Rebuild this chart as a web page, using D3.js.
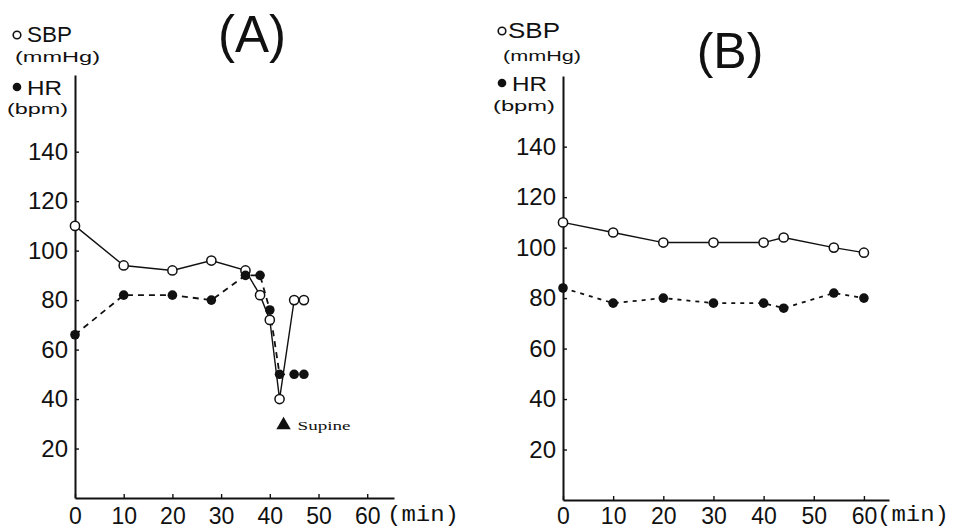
<!DOCTYPE html>
<html>
<head>
<meta charset="utf-8">
<script src="https://cdn.jsdelivr.net/npm/d3@7"></script>
<style>
  html, body { margin: 0; padding: 0; background: #fff; }
  svg { display: block; }
  text { fill: #111; }
</style>
</head>
<body>
<svg id="chart" width="955" height="529"></svg>
<script>
// ---------- DATA ----------
// Panel A
const timeA_SBP = [0, 10, 20, 28, 35, 38, 40, 42, 45, 47];
const sbpA      = [110, 94, 92, 96, 92, 82, 72, 40, 80, 80];
const timeA_HR  = [0, 10, 20, 28, 35, 38, 40, 42, 45, 47];
const hrA       = [66, 82, 82, 80, 90, 90, 76, 50, 50, 50];
// Panel B
const timeB_SBP = [0, 10, 20, 30, 40, 44, 54, 60];
const sbpB      = [110, 106, 102, 102, 102, 104, 100, 98];
const timeB_HR  = [0, 10, 20, 30, 40, 44, 54, 60];
const hrB       = [84, 78, 80, 78, 78, 76, 82, 80];

const yTicks = [20, 40, 60, 80, 100, 120, 140];
const xTicks = [0, 10, 20, 30, 40, 50, 60];
const panelTitles = ["(A)", "(B)"];
const legendSBP = "SBP", legendSBPUnit = "(mmHg)";
const legendHR = "HR", legendHRUnit = "(bpm)";
const xUnit = "(min)";
const supineLabel = "Supine";
const supineTime = 42;

// ---------- DRAW ----------
const svg = d3.select("#chart");
const sans = "'Liberation Sans', Arial, Helvetica, sans-serif";

function panel(cfg) {
  const g = svg.append("g");
  const x = d3.scaleLinear().domain([0, cfg.xMax]).range([cfg.x0, cfg.x1]);
  const y = d3.scaleLinear().domain([0, cfg.yMax]).range([cfg.y0, cfg.y1]);

  // y axis
  const ya = g.append("g").attr("transform", `translate(${cfg.x0},0)`)
    .call(d3.axisLeft(y).tickValues(yTicks).tickSizeInner(-4).tickSizeOuter(0).tickPadding(7));
  ya.select(".domain").attr("stroke", "#111").attr("stroke-width", 2);
  ya.selectAll(".tick line").attr("stroke", "#111").attr("stroke-width", 1.4);
  ya.selectAll("text").attr("font-family", sans).attr("font-size", 24).attr("fill", "#111");

  // x axis
  const xa = g.append("g").attr("transform", `translate(0,${cfg.y0})`)
    .call(d3.axisBottom(x).tickValues(xTicks).tickSizeInner(-4).tickSizeOuter(0));
  xa.select(".domain").attr("stroke", "#111").attr("stroke-width", 2);
  xa.selectAll(".tick line").attr("stroke", "#111").attr("stroke-width", 1.4);
  xa.selectAll("text").attr("font-family", sans).attr("font-size", 23)
    .attr("fill", "#111").attr("y", 524 - cfg.y0).attr("dy", 0);

  g.append("text").attr("x", cfg.minX).attr("y", 521)
    .attr("font-family", "'Liberation Mono', 'DejaVu Sans Mono', monospace")
    .attr("font-size", 22).attr("textLength", 72).attr("lengthAdjust", "spacingAndGlyphs")
    .text(xUnit);

  const sbpPts = cfg.tS.map((t, i) => [t, cfg.sbp[i]]);
  const hrPts = cfg.tH.map((t, i) => [t, cfg.hr[i]]);
  const line = d3.line().x(d => x(d[0])).y(d => y(d[1]));

  g.append("path").datum(sbpPts).attr("d", line)
    .attr("fill", "none").attr("stroke", "#111").attr("stroke-width", 1.4);
  g.append("path").datum(hrPts).attr("d", line)
    .attr("fill", "none").attr("stroke", "#111").attr("stroke-width", 1.8)
    .attr("stroke-dasharray", cfg.dash);

  g.selectAll(".sbp").data(sbpPts).join("circle")
    .attr("cx", d => x(d[0])).attr("cy", d => y(d[1])).attr("r", 4.6)
    .attr("fill", "#fff").attr("stroke", "#111").attr("stroke-width", 1.5);
  g.selectAll(".hr").data(hrPts).join("circle")
    .attr("cx", d => x(d[0])).attr("cy", d => y(d[1])).attr("r", 4.8)
    .attr("fill", "#111");

  // legend
  const L = cfg.leg;
  g.append("circle").attr("cx", L.cx).attr("cy", L.sbpCy).attr("r", 3.8)
    .attr("fill", "#fff").attr("stroke", "#111").attr("stroke-width", 1.6);
  g.append("text").attr("x", L.sbpX).attr("y", L.sbpY).attr("font-family", sans)
    .attr("font-size", 22).attr("textLength", L.sbpW).attr("lengthAdjust", "spacingAndGlyphs")
    .text(legendSBP);
  g.append("text").attr("x", L.mmX).attr("y", L.mmY).attr("font-family", sans)
    .attr("font-size", 15).attr("textLength", L.mmW).attr("lengthAdjust", "spacingAndGlyphs")
    .text(legendSBPUnit);
  g.append("circle").attr("cx", L.cx).attr("cy", L.hrCy).attr("r", 4.3).attr("fill", "#111");
  g.append("text").attr("x", L.hrX).attr("y", L.hrY).attr("font-family", sans)
    .attr("font-size", 21).attr("textLength", 35).attr("lengthAdjust", "spacingAndGlyphs")
    .text(legendHR);
  g.append("text").attr("x", L.bpmX).attr("y", L.bpmY).attr("font-family", sans)
    .attr("font-size", 15).attr("textLength", L.bpmW).attr("lengthAdjust", "spacingAndGlyphs")
    .text(legendHRUnit);

  // title
  g.append("text").attr("x", cfg.titleX).attr("y", cfg.titleY).attr("text-anchor", "middle")
    .attr("font-family", sans).attr("font-size", cfg.titleSize).text(cfg.title);

  return { g, x, y };
}

const A = panel({
  x0: 75, x1: 394, xMax: 65.5, y0: 498, y1: 75, yMax: 171,
  tS: timeA_SBP, sbp: sbpA, tH: timeA_HR, hr: hrA, dash: "6,5",
  minX: 387, title: panelTitles[0], titleX: 252, titleY: 52, titleSize: 51,
  leg: { cx: 17, sbpCy: 35, sbpX: 27, sbpY: 42, sbpW: 45,
         mmX: 15, mmY: 62, mmW: 85, hrCy: 87, hrX: 27, hrY: 95,
         bpmX: 7, bpmY: 114, bpmW: 61 }
});

const B = panel({
  x0: 563, x1: 889, xMax: 65, y0: 500, y1: 76, yMax: 168,
  tS: timeB_SBP, sbp: sbpB, tH: timeB_HR, hr: hrB, dash: "4,5",
  minX: 877, title: panelTitles[1], titleX: 730, titleY: 68, titleSize: 50,
  leg: { cx: 502, sbpCy: 31, sbpX: 508, sbpY: 38, sbpW: 52,
         mmX: 503, mmY: 61, mmW: 78, hrCy: 83, hrX: 512, hrY: 91,
         bpmX: 493, bpmY: 111, bpmW: 62 }
});

// Supine marker (panel A)
const sx = A.x(supineTime) + 4;
const sy = 430;
A.g.append("path")
  .attr("d", d3.symbol().type(d3.symbolTriangle).size(90)())
  .attr("transform", `translate(${sx},${sy - 5})`)
  .attr("fill", "#111");
A.g.append("text").attr("x", sx + 14).attr("y", sy)
  .attr("font-family", "'Liberation Serif', 'DejaVu Serif', serif")
  .attr("font-size", 13).attr("textLength", 53).attr("lengthAdjust", "spacingAndGlyphs")
  .text(supineLabel);
</script>
</body>
</html>
